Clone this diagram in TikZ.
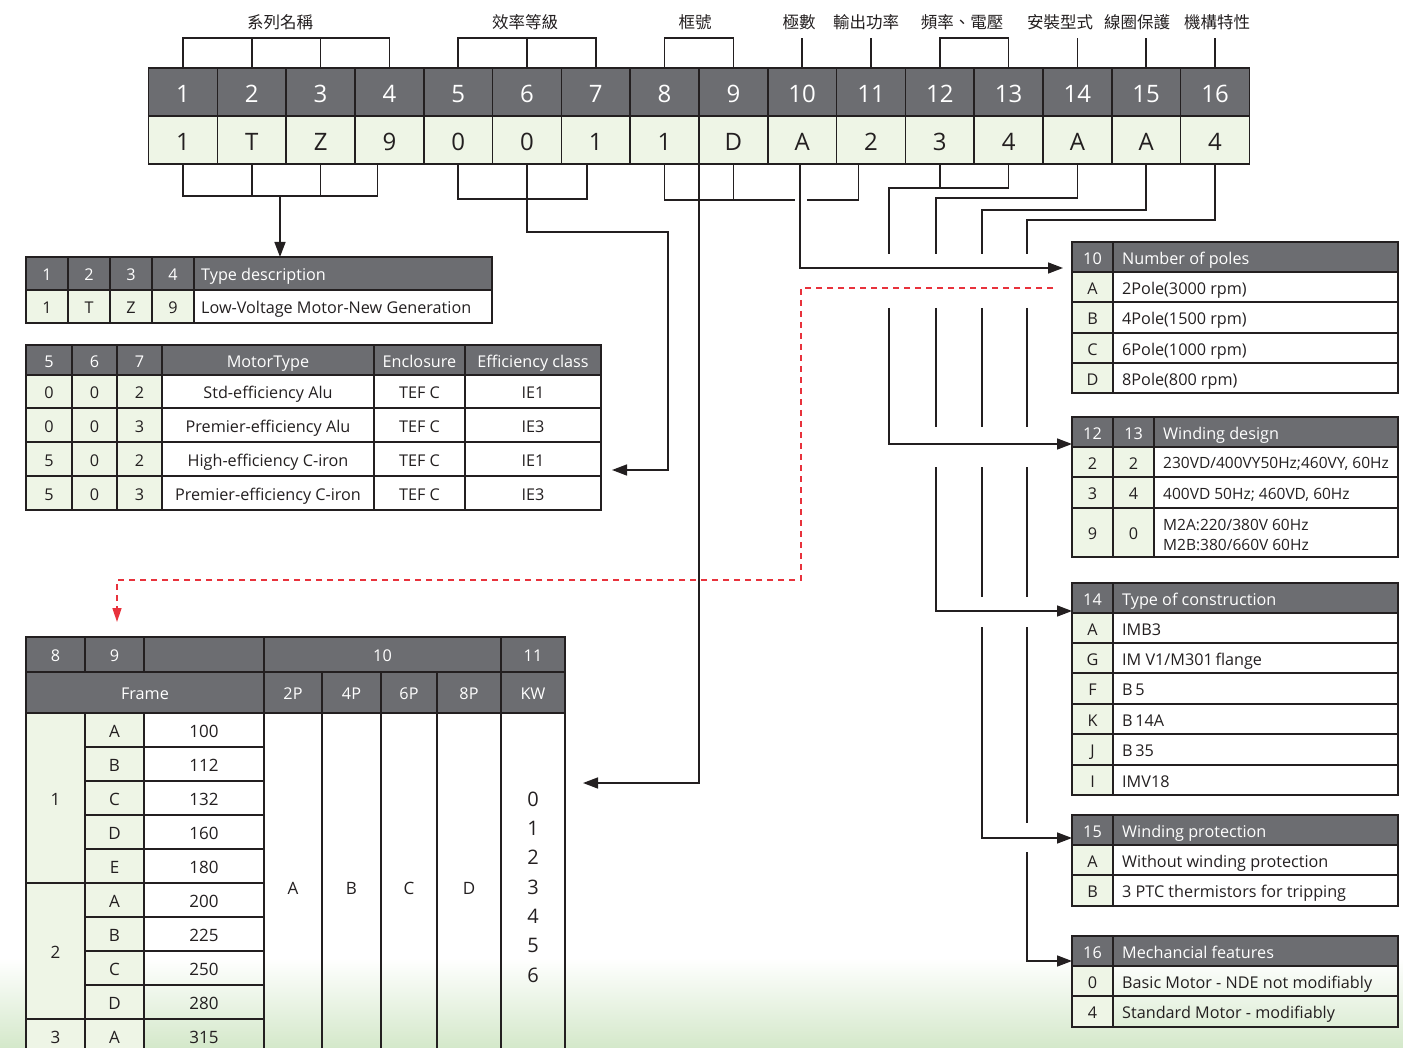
\documentclass[tikz,border=0pt]{standalone}
\usepackage{fontspec}
\setmainfont{Open Sans}
\newfontfamily\cjk{Noto Sans CJK TC}
\usetikzlibrary{arrows.meta}
\definecolor{hdr}{HTML}{6C6D71}
\definecolor{pale}{HTML}{EEF5E6}
\definecolor{ink}{HTML}{231F20}
\definecolor{redd}{HTML}{E8323C}
\definecolor{bgg}{HTML}{D4E8CA}
\newcommand\fsz[1]{\fontsize{#1}{#1}\selectfont}
\tikzset{
  fa/.style={font=\fsz{16.2}, text height=14.4pt, text depth=0pt},
  fb/.style={font=\fsz{24}, text height=20.6pt, text depth=0pt},
  fc/.style={font=\fsz{17}, text height=15.3pt, text depth=0pt},
  fd/.style={font=\fsz{15.5}, text height=13.9pt, text depth=0pt},
  tc/.style={draw=ink, line width=1.6pt, inner sep=0pt, outer sep=0pt, text=ink, fa},
  hd/.style={fill=hdr, text=white},
  gr/.style={fill=pale},
  conn/.style={draw=ink, line width=1.5pt},
  arr/.style={conn, -{Triangle[length=15pt,width=11pt]}},
  redarr/.style={draw=redd, line width=1.5pt, dash pattern=on 6pt off 5pt, -{Triangle[length=14pt,width=9pt]}},
  cjklab/.style={font=\cjk\fsz{16.5}, text=ink, inner sep=0pt},
  txt/.style={anchor=west, inner sep=0pt, text=ink, fa},
}
% name, x1, y1, x2, y2, style, text
\newcommand\cell[7]{\node[tc,#6,minimum width={(#4)-(#2)},minimum height={(#5)-(#3)}] (#1) at ({((#2)+(#4))/2},{((#3)+(#5))/2}) {#7};}
% name, x1, y1, x2, y2, cell style, text style, text (left aligned)
\newcommand\lcell[8]{\cell{#1}{#2}{#3}{#4}{#5}{#6}{}\node[txt,#7] (#1t) at ([xshift=9pt]#1.west) {#8};}
\begin{document}
\begin{tikzpicture}[x=1pt,y=-1pt]
\useasboundingbox (0,0) rectangle (1403,1048);
\begin{scope}
\clip (0,0) rectangle (1403,1048);
\shade[top color=white,bottom color=bgg] (0,958) rectangle (1403,1048);

% ---------- main code table ----------
\foreach \i/\v in {1/1,2/T,3/Z,4/9,5/0,6/0,7/1,8/1,9/D,10/A,11/2,12/3,13/4,14/A,15/A,16/4}{
  \pgfmathsetmacro\xa{148.6+68.8*(\i-1)}
  \pgfmathsetmacro\xb{148.6+68.8*\i}
  \cell{h\i}{\xa}{68}{\xb}{116}{hd,fb}{\i}
  \cell{v\i}{\xa}{116}{\xb}{164}{gr,fb}{\v}
}

% ---------- top labels ----------
\node[cjklab] (L1) at (280,22) {系列名稱};
\node[cjklab] (L2) at (525,22) {效率等級};
\node[cjklab] (L3) at (695,22) {框號};
\node[cjklab] (L4) at (799,22) {極數};
\node[cjklab] (L5) at (866,22) {輸出功率};
\node[cjklab] (L6) at (962,22) {頻率、電壓};
\node[cjklab] (L7) at (1060,22) {安裝型式};
\node[cjklab] (L8) at (1137,22) {線圈保護};
\node[cjklab] (L9) at (1217,22) {機構特性};

% ---------- table A: type description ----------
\cell{tA1}{26}{257}{68}{290}{hd}{1}
\cell{tA2}{68}{257}{110}{290}{hd}{2}
\cell{tA3}{110}{257}{152}{290}{hd}{3}
\cell{tA4}{152}{257}{194}{290}{hd}{4}
\node[tc,hd,minimum width=298pt,minimum height=33pt] (tA5) at (343,273.5) {};
\node[txt,text=white] (tA5t) at ([xshift=7pt]tA5.west) {Type description};
\cell{tA6}{26}{290}{68}{323}{gr}{1}
\cell{tA7}{68}{290}{110}{323}{gr}{T}
\cell{tA8}{110}{290}{152}{323}{gr}{Z}
\cell{tA9}{152}{290}{194}{323}{gr}{9}
\node[tc,minimum width=298pt,minimum height=33pt] (tA10) at (343,306.5) {};
\node[txt] (tA10t) at ([xshift=7pt]tA10.west) {Low-Voltage Motor-New Generation};

% ---------- table B: motor type ----------
\cell{tB1}{26}{345}{72}{375}{hd}{5}
\cell{tB2}{72}{345}{117}{375}{hd}{6}
\cell{tB3}{117}{345}{162}{375}{hd}{7}
\cell{tB4}{162}{345}{374}{375}{hd}{MotorType}
\cell{tB5}{374}{345}{465}{375}{hd}{Enclosure}
\cell{tB6}{465}{345}{601}{375}{hd}{Efficiency class}
\foreach \r/\ya/\yb/\a/\b/\c/\d/\e in {1/375/408/0/0/2/Std-efficiency Alu/IE1,2/408/442/0/0/3/Premier-efficiency Alu/IE3,3/442/476/5/0/2/High-efficiency C-iron/IE1,4/476/510/5/0/3/Premier-efficiency C-iron/IE3}{
  \cell{tBa\r}{26}{\ya}{72}{\yb}{gr}{\a}
  \cell{tBb\r}{72}{\ya}{117}{\yb}{gr}{\b}
  \cell{tBc\r}{117}{\ya}{162}{\yb}{gr}{\c}
  \cell{tBd\r}{162}{\ya}{374}{\yb}{}{\d}
  \cell{tBe\r}{374}{\ya}{465}{\yb}{}{TEF C}
  \cell{tBf\r}{465}{\ya}{601}{\yb}{}{\e}
}

% ---------- table C: frame ----------
\cell{fh8}{26}{637}{85}{672}{hd}{8}
\cell{fh9}{85}{637}{144}{672}{hd}{9}
\cell{fhx}{144}{637}{264}{672}{hd}{}
\cell{fh10}{264}{637}{501}{672}{hd}{10}
\cell{fh11}{501}{637}{565}{672}{hd}{11}
\cell{fframe}{26}{672}{264}{713}{hd}{Frame}
\cell{f2p}{264}{672}{322}{713}{hd}{2P}
\cell{f4p}{322}{672}{381}{713}{hd}{4P}
\cell{f6p}{381}{672}{437}{713}{hd}{6P}
\cell{f8p}{437}{672}{501}{713}{hd}{8P}
\cell{fkw}{501}{672}{565}{713}{hd}{KW}
\cell{fg1}{26}{713}{85}{883}{gr,fc}{1}
\cell{fg2}{26}{883}{85}{1019}{gr,fc}{2}
\cell{fg3}{26}{1019}{85}{1053}{gr,fc}{3}
\foreach \r/\k/\f in {0/A/100,1/B/112,2/C/132,3/D/160,4/E/180,5/A/200,6/B/225,7/C/250,8/D/280,9/A/315}{
  \pgfmathsetmacro\ya{713+34*\r}
  \pgfmathsetmacro\yb{747+34*\r}
  \cell{fk\r}{85}{\ya}{144}{\yb}{gr,fc}{\k}
  \cell{ff\r}{144}{\ya}{264}{\yb}{fc}{\f}
}
\cell{fc2}{264}{713}{322}{1060}{fc}{A}
\cell{fc4}{322}{713}{381}{1060}{fc}{B}
\cell{fc6}{381}{713}{437}{1060}{fc}{C}
\cell{fc8}{437}{713}{501}{1060}{fc}{D}
\cell{fckw}{501}{713}{565}{1060}{}{}
\node[align=center,inner sep=0pt,text=ink,font=\fontsize{20}{29.3}\selectfont] (kwnums) at (533,887) {0\\1\\2\\3\\4\\5\\6};

% ---------- table D: number of poles ----------
\cell{tD1}{1072}{242}{1113}{272}{hd}{10}
\lcell{tD2}{1113}{242}{1398}{272}{hd}{text=white}{Number of poles}
\foreach \r/\ya/\yb/\k/\t in {1/272/302/A/2Pole(3000 rpm),2/302/333/B/4Pole(1500 rpm),3/333/363/C/6Pole(1000 rpm),4/363/393/D/8Pole(800 rpm)}{
  \cell{tDk\r}{1072}{\ya}{1113}{\yb}{gr}{\k}
  \lcell{tDv\r}{1113}{\ya}{1398}{\yb}{}{}{\t}
}

% ---------- table E: winding design ----------
\cell{tE1}{1072}{417}{1113}{447}{hd}{12}
\cell{tE2}{1113}{417}{1154}{447}{hd}{13}
\lcell{tE3}{1154}{417}{1398}{447}{hd}{text=white}{Winding design}
\cell{tEa1}{1072}{447}{1113}{477}{gr}{2}
\cell{tEb1}{1113}{447}{1154}{477}{gr}{2}
\lcell{tEc1}{1154}{447}{1398}{477}{}{fd}{230VD/400VY50Hz;460VY, 60Hz}
\cell{tEa2}{1072}{477}{1113}{508}{gr}{3}
\cell{tEb2}{1113}{477}{1154}{508}{gr}{4}
\lcell{tEc2}{1154}{477}{1398}{508}{}{fd}{400VD 50Hz; 460VD, 60Hz}
\cell{tEa3}{1072}{508}{1113}{557}{gr}{9}
\cell{tEb3}{1113}{508}{1154}{557}{gr}{0}
\cell{tEc3}{1154}{508}{1398}{557}{}{}
\node[anchor=west,inner sep=0pt,text=ink,align=left,font=\fontsize{15.5}{20}\selectfont] (tEc3t) at ([xshift=9pt,yshift=-2.5pt]tEc3.west) {M2A:220/380V 60Hz\\M2B:380/660V 60Hz};

% ---------- table F: type of construction ----------
\cell{tF1}{1072}{583}{1113}{613}{hd}{14}
\lcell{tF2}{1113}{583}{1398}{613}{hd}{text=white}{Type of construction}
\cell{tFk1}{1072}{613}{1113}{643}{gr}{A}
\lcell{tFv1}{1113}{613}{1398}{643}{}{}{IMB3}
\cell{tFk2}{1072}{643}{1113}{673}{gr}{G}
\lcell{tFv2}{1113}{643}{1398}{673}{}{}{IM V1/M301\,flange}
\cell{tFk3}{1072}{673}{1113}{704}{gr}{F}
\lcell{tFv3}{1113}{673}{1398}{704}{}{}{B\,5}
\cell{tFk4}{1072}{704}{1113}{734}{gr}{K}
\lcell{tFv4}{1113}{704}{1398}{734}{}{}{B\,14A}
\cell{tFk5}{1072}{734}{1113}{765}{gr}{J}
\lcell{tFv5}{1113}{734}{1398}{765}{}{}{B\,35}
\cell{tFk6}{1072}{765}{1113}{795}{gr}{I}
\lcell{tFv6}{1113}{765}{1398}{795}{}{}{IMV18}

% ---------- table G: winding protection ----------
\cell{tG1}{1072}{815}{1113}{845}{hd}{15}
\lcell{tG2}{1113}{815}{1398}{845}{hd}{text=white}{Winding protection}
\cell{tGk1}{1072}{845}{1113}{875}{gr}{A}
\lcell{tGv1}{1113}{845}{1398}{875}{}{}{Without winding protection}
\cell{tGk2}{1072}{875}{1113}{906}{gr}{B}
\lcell{tGv2}{1113}{875}{1398}{906}{}{}{3 PTC thermistors for tripping}

% ---------- table H: mechanical features ----------
\cell{tH1}{1072}{936}{1113}{966}{hd}{16}
\lcell{tH2}{1113}{936}{1398}{966}{hd}{text=white}{Mechancial features}
\cell{tHk1}{1072}{966}{1113}{996}{gr}{0}
\lcell{tHv1}{1113}{966}{1398}{996}{}{}{Basic Motor - NDE not modifiably}
\cell{tHk2}{1072}{996}{1113}{1027}{gr}{4}
\lcell{tHv2}{1113}{996}{1398}{1027}{}{}{Standard Motor - modifiably}

% ---------- top brackets ----------
\draw[conn] (h1.north) -- ++(0,-30) -| (h4.north);
\draw[conn] (h2.north) -- ++(0,-30);
\draw[conn] (h3.north) -- ++(0,-30);
\draw[conn] (h5.north) -- ++(0,-30) -| (h7.north);
\draw[conn] (h6.north) -- ++(0,-30);
\draw[conn] (h8.north) -- ++(0,-30) -| (h9.north);
\draw[conn] (h10.north) -- ++(0,-30);
\draw[conn] (h11.north) -- ++(0,-30);
\draw[conn] (h12.north) -- ++(0,-30) -| (h13.north);
\draw[conn] (h14.north) -- ++(0,-30);
\draw[conn] (h15.north) -- ++(0,-30);
\draw[conn] (h16.north) -- ++(0,-30);

% ---------- bottom connectors ----------
\coordinate (b1) at (280,196);
\draw[conn] (v1.south) -- ++(0,32) -| ([xshift=-12pt]v4.south);
\draw[conn] (v2.south) -- ++(0,32);
\draw[conn] (v3.south) -- ++(0,32);
\draw[arr] (b1) -- (b1 |- tA5.north);

\coordinate (k1) at (668,470);
\coordinate (k2) at (612,470);
\draw[conn] (v5.south) -- ++(0,35) -| ([xshift=-9pt]v7.south);
\draw[arr] (v6.south) -- ++(0,68) -| (k1) -- (k2);

\coordinate (g1) at (795,200);
\coordinate (g2) at (807,200);
\draw[conn] (v8.south) -- ++(0,36) -- (g1);
\draw[conn] (v9.south) -- ++(0,36);
\draw[conn] (g2) -| ([xshift=-12.6pt]v11.south);

\coordinate (fk) at (583,783);
\draw[arr] (v8.south east) |- (fk);

\draw[arr] ([xshift=-2pt]v10.south) |- ([xshift=-9pt,yshift=-11pt]tD1.west);

\coordinate (s12a) at (889,254);
\coordinate (s12b) at (889,308);
\draw[conn] (v12.south) -- ++(0,25);
\draw[conn] (v13.south) -- ++(0,24) -| (s12a);
\draw[arr] (s12b) |- ([yshift=-12pt]tE1.west);

\coordinate (s14a) at (936,254);
\coordinate (s14b) at (936,308);
\coordinate (s14c) at (936,427);
\coordinate (s14d) at (936,467);
\draw[conn] (v14.south) -- ++(0,34) -| (s14a);
\draw[conn] (s14b) -- (s14c);
\draw[arr] (s14d) |- ([yshift=-13pt]tF1.west);

\coordinate (s15a) at (982,254);
\coordinate (s15b) at (982,308);
\coordinate (s15c) at (982,427);
\coordinate (s15d) at (982,467);
\coordinate (s15e) at (982,597);
\coordinate (s15f) at (982,627);
\draw[conn] (v15.south) -- ++(0,46) -| (s15a);
\draw[conn] (s15b) -- (s15c);
\draw[conn] (s15d) -- (s15e);
\draw[arr] (s15f) |- ([yshift=-8pt]tG1.west);

\coordinate (s16a) at (1027,254);
\coordinate (s16b) at (1027,308);
\coordinate (s16c) at (1027,427);
\coordinate (s16d) at (1027,467);
\coordinate (s16e) at (1027,597);
\coordinate (s16f) at (1027,627);
\coordinate (s16g) at (1027,823);
\coordinate (s16h) at (1027,852);
\draw[conn] (v16.south) -- ++(0,56) -| (s16a);
\draw[conn] (s16b) -- (s16c);
\draw[conn] (s16d) -- (s16e);
\draw[conn] (s16f) -- (s16g);
\draw[arr] (s16h) |- ([yshift=-10pt]tH1.west);

% ---------- red dashed link ----------
\coordinate (r1) at (1053,288);
\coordinate (r2) at (801,288);
\coordinate (r3) at (801,580);
\coordinate (r4) at (117,580);
\coordinate (r5) at (117,622);
\draw[redarr] (r1) -- (r2) -- (r3) -- (r4) -- (r5);
\end{scope}
\end{tikzpicture}
\end{document}
